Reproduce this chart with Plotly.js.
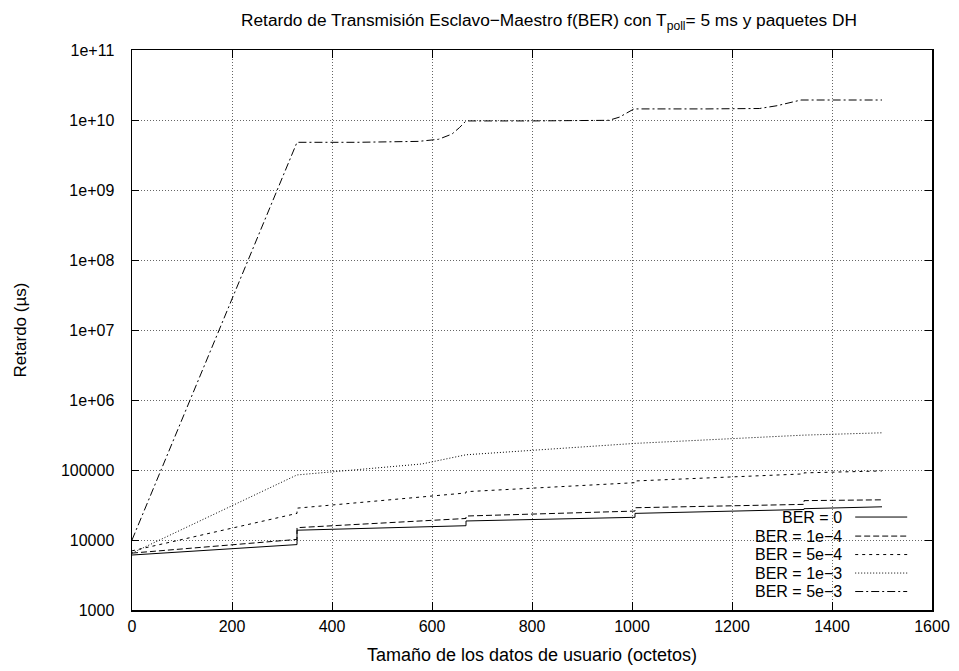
<!DOCTYPE html>
<html>
<head>
<meta charset="utf-8">
<script src="https://cdn.plot.ly/plotly-3.0.1.min.js"></script>
<style>html,body{margin:0;padding:0;background:#fff;}#chart{width:959px;height:671px;}</style>
</head>
<body>
<div id="chart"></div>
<script>
// ---- data (x: octetos, y: retardo en µs) ----
const seriesNames = ["BER = 0", "BER = 1e\u22124", "BER = 5e\u22124", "BER = 1e\u22123", "BER = 5e\u22123"];

const xBer0 = [0, 330, 330, 668, 668, 1006, 1006, 1344, 1344, 1500];
const yBer0 = [6100, 8600, 13800, 16000, 18700, 21100, 24000, 27300, 28000, 29800];

const xBer1e4 = [0, 330, 330, 668, 668, 1006, 1006, 1344, 1344, 1500];
const yBer1e4 = [6500, 10200, 15000, 20300, 22000, 25900, 28900, 32300, 36500, 37500];

const xBer5e4 = [0, 330, 330, 668, 668, 1006, 1006, 1344, 1344, 1500];
const yBer5e4 = [7000, 24000, 28500, 47000, 49000, 65900, 69700, 88000, 91000, 97000];

const xBer1e3 = [0, 330, 580, 668, 1006, 1344, 1500];
const yBer1e3 = [6500, 85000, 122000, 165000, 240000, 315000, 340000];

const xBer5e3 = [0, 330, 450, 573, 613, 640, 655, 668, 800, 954, 975, 990, 1004, 1150, 1255, 1290, 1315, 1338, 1500];
const yBer5e3 = [1e4, 4.8e9, 4.8e9, 4.95e9, 5.3e9, 6.3e9, 7.8e9, 9.7e9, 9.7e9, 9.9e9, 1.1e10, 1.25e10, 1.44e10, 1.44e10, 1.46e10, 1.6e10, 1.75e10, 1.93e10, 1.93e10];

const xTicks = [0, 200, 400, 600, 800, 1000, 1200, 1400, 1600];
const yMajorTicks = [1e3, 1e4, 1e5, 1e6, 1e7, 1e8, 1e9, 1e10, 1e11];
const yMajorLabels = ["1000", "10000", "100000", "1e+06", "1e+07", "1e+08", "1e+09", "1e+10", "1e+11"];
const yMinorMultipliers = [2, 5, 8];

// ---- styles ----
const dashes = ["solid", "6px,3px", "3px,4px", "1px,2px", "8px,3px,2px,3px"];
const FONT = "Liberation Sans, Arial, Helvetica, sans-serif";

const xs = [xBer0, xBer1e4, xBer5e4, xBer1e3, xBer5e3];
const ys = [yBer0, yBer1e4, yBer5e4, yBer1e3, yBer5e3];

const traces = xs.map((x, i) => ({
  x: x, y: ys[i], name: seriesNames[i], type: "scatter", mode: "lines",
  line: {color: "#000", width: 1, dash: dashes[i]},
  showlegend: false, hoverinfo: "skip"
}));

const yMinorTicks = [];
for (let d = 3; d < 11; d++) {
  yMinorMultipliers.forEach(m => yMinorTicks.push(m * Math.pow(10, d)));
}

// legend drawn gnuplot-style: text right-aligned, sample on the right
const legX0 = 0.745, legX1 = 0.985, legY0 = 0.018, legY1 = 0.184;
const rowY = [0.166, 0.132, 0.099, 0.066, 0.033];
const shapes = [{
  type: "rect", xref: "paper", yref: "paper", x0: legX0, x1: legX1, y0: legY0, y1: legY1,
  fillcolor: "#fff", line: {width: 0}, layer: "between"
}];
const annotations = [];
seriesNames.forEach((n, i) => {
  annotations.push({
    xref: "paper", yref: "paper", x: 0.889, y: rowY[i], xanchor: "right", yanchor: "middle",
    text: n, showarrow: false, font: {family: FONT, size: 16, color: "#000"},
    borderpad: 0
  });
  shapes.push({
    type: "line", xref: "paper", yref: "paper", x0: 0.904, x1: 0.969, y0: rowY[i], y1: rowY[i],
    line: {color: "#000", width: 1, dash: dashes[i]}, layer: "above"
  });
});

const gridDash = "1px,2px";
const layout = {
  width: 959, height: 671,
  margin: {l: 132, r: 27, t: 50, b: 61},
  paper_bgcolor: "#fff", plot_bgcolor: "#fff",
  font: {family: FONT, size: 16, color: "#000"},
  title: {
    text: "Retardo de Transmisión Esclavo\u2212Maestro f(BER) con T<sub>poll</sub>= 5 ms y paquetes DH",
    font: {family: FONT, size: 17.3, color: "#000"},
    x: 549 / 959, xref: "container", xanchor: "center",
    y: 1 - 20 / 671, yref: "container", yanchor: "middle"
  },
  xaxis: {
    range: [0, 1600], tickvals: xTicks, ticktext: xTicks.map(String),
    ticks: "inside", ticklen: 8, tickcolor: "#000", tickwidth: 1,
    showline: true, linecolor: "#000", linewidth: 1.5, mirror: "ticks",
    showgrid: true, gridcolor: "#666", gridwidth: 1, griddash: gridDash,
    zeroline: false, ticklabelstandoff: 1,
    tickfont: {family: FONT, size: 16, color: "#000"},
    title: {text: "Tamaño de los datos de usuario (octetos)", font: {family: FONT, size: 18, color: "#000"}, standoff: 14}
  },
  yaxis: {
    type: "log", range: [3, 11], tickvals: yMajorTicks, ticktext: yMajorLabels,
    ticks: "inside", ticklen: 7, tickcolor: "#000", tickwidth: 1,
    showline: true, linecolor: "#000", linewidth: 1.5, mirror: "ticks",
    showgrid: true, gridcolor: "#666", gridwidth: 1, griddash: gridDash,
    zeroline: false, ticklabelstandoff: 13,
    tickfont: {family: FONT, size: 16, color: "#000"},
    title: {text: "Retardo (µs)", font: {family: FONT, size: 17, color: "#000"}, standoff: 30}
  },
  yaxis2: {
    type: "log", range: [3, 11], overlaying: "y", side: "left", anchor: "x",
    tickvals: yMinorTicks,
    ticks: "inside", ticklen: 4, tickcolor: "#000", tickwidth: 1,
    showline: false, mirror: "ticks",
    showgrid: true, gridcolor: "#666", gridwidth: 1, griddash: gridDash,
    zeroline: false, showticklabels: false
  },
  shapes: shapes,
  annotations: annotations,
  showlegend: false
};

Plotly.newPlot("chart", traces, layout, {displayModeBar: false, staticPlot: true});
</script>
</body>
</html>
